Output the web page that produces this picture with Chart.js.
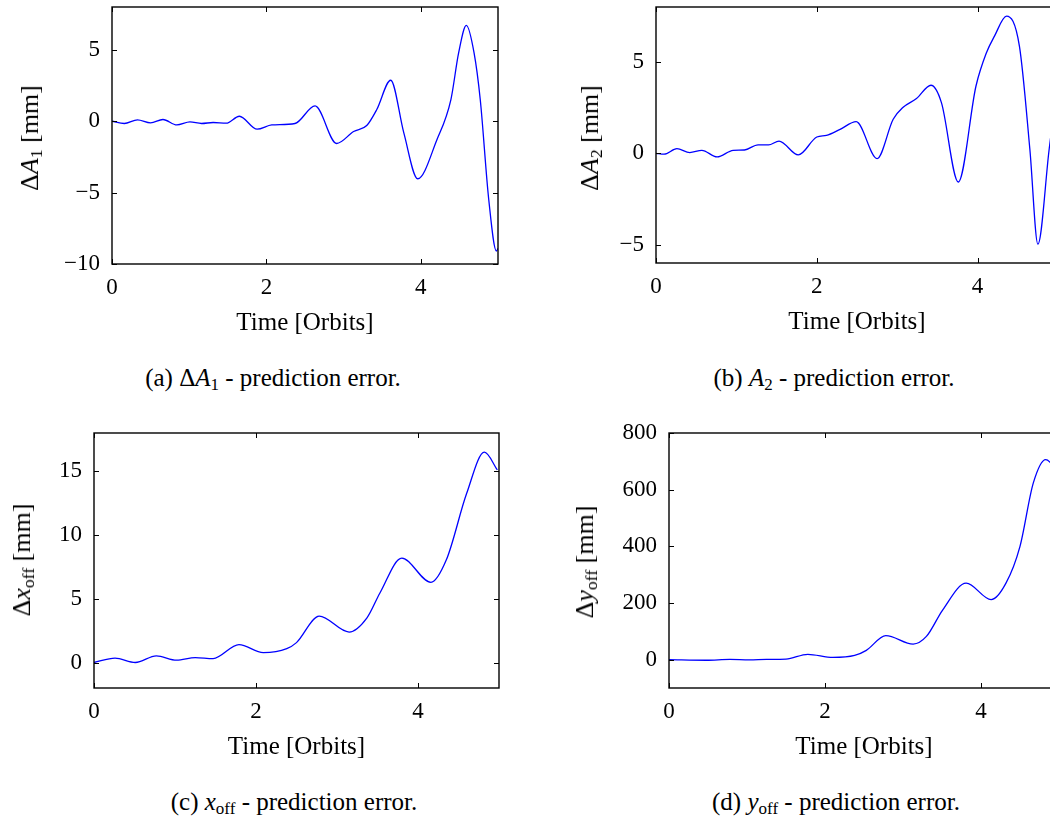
<!DOCTYPE html>
<html>
<head>
<meta charset="utf-8">
<script src="https://cdn.jsdelivr.net/npm/chart.js@4.4.0/dist/chart.umd.min.js"></script>
<style>
  html, body { margin: 0; padding: 0; background: #fff; width: 1050px; height: 817px; overflow: hidden; }
  body { position: relative; font-family: "Liberation Serif", serif; color: #000; }
  canvas { position: absolute; }
  .ytitle, .caption { position: absolute; white-space: nowrap; line-height: 1; }
  .ytitle { font-size: 26px; transform: translate(-50%, -50%) rotate(-90deg); }
  .caption { font-size: 25px; transform: translate(-50%, -50%); }
  sub { font-size: 68%; vertical-align: -0.25em; line-height: 0; }
</style>
</head>
<body>
<canvas id="chartA"></canvas>
<canvas id="chartB"></canvas>
<canvas id="chartC"></canvas>
<canvas id="chartD"></canvas>

<div class="ytitle" style="left:30px;top:138px">Δ<i>A</i><sub>1</sub> [mm]</div>
<div class="ytitle" style="left:590px;top:138px">Δ<i>A</i><sub>2</sub> [mm]</div>
<div class="ytitle" style="left:22px;top:560px">Δ<i>x</i><sub>off</sub> [mm]</div>
<div class="ytitle" style="left:585px;top:562px">Δ<i>y</i><sub>off</sub> [mm]</div>

<div class="caption" style="left:273px;top:377px">(a) Δ<i>A</i><sub>1</sub> - prediction error.</div>
<div class="caption" style="left:834px;top:377px">(b) <i>A</i><sub>2</sub> - prediction error.</div>
<div class="caption" style="left:294px;top:801px">(c) <i>x</i><sub>off</sub> - prediction error.</div>
<div class="caption" style="left:836px;top:801px">(d) <i>y</i><sub>off</sub> - prediction error.</div>

<script>
// time axis, shared by all panels
const xTicks = [0, 2, 4];

// (a) delta A1 [mm]
const tA = [0, 0.16, 0.33, 0.5, 0.66, 0.84, 1.01, 1.16, 1.31, 1.48, 1.65, 1.88, 2.07, 2.37, 2.63, 2.91, 3.13, 3.30, 3.43, 3.61, 3.78, 3.96, 4.21, 4.39, 4.49, 4.59, 4.69, 4.77, 4.88, 4.98, 5.0];
const dA1 = [0, -0.16, 0.09, -0.12, 0.12, -0.26, -0.05, -0.16, -0.09, -0.14, 0.35, -0.56, -0.26, -0.16, 1.07, -1.56, -0.72, -0.30, 0.82, 2.87, -0.82, -4.03, -1.28, 1.52, 4.78, 6.71, 4.78, 1.52, -5.48, -9.09, -8.9];
const ticksA = [-10, -5, 0, 5];

// (b) delta A2 [mm]
const tB = [0, 0.1, 0.26, 0.42, 0.57, 0.76, 0.96, 1.1, 1.27, 1.4, 1.53, 1.77, 2.0, 2.12, 2.29, 2.49, 2.75, 2.95, 3.07, 3.24, 3.42, 3.55, 3.76, 3.98, 4.11, 4.21, 4.36, 4.52, 4.65, 4.75, 4.89, 4.97];
const dA2 = [0, -0.05, 0.25, 0.04, 0.16, -0.2, 0.16, 0.18, 0.46, 0.46, 0.67, -0.09, 0.89, 0.98, 1.31, 1.73, -0.29, 1.86, 2.5, 2.99, 3.72, 2.77, -1.57, 3.68, 5.5, 6.41, 7.5, 5.86, 0.22, -4.97, 0.22, 3.0];
const ticksB = [-5, 0, 5];

// (c) delta x_off [mm]
const tC = [0, 0.26, 0.51, 0.77, 1.02, 1.25, 1.47, 1.79, 2.09, 2.38, 2.5, 2.78, 3.15, 3.37, 3.53, 3.8, 4.16, 4.35, 4.6, 4.82, 4.98];
const dXoff = [0, 0.34, 0, 0.52, 0.18, 0.39, 0.31, 1.4, 0.78, 1.09, 1.56, 3.64, 2.39, 3.5, 5.45, 8.18, 6.29, 8.05, 13.25, 16.5, 15.1];
const ticksC = [0, 5, 10, 15];

// (d) delta y_off [mm]
const tD = [0, 0.48, 0.78, 1.03, 1.25, 1.5, 1.78, 2.1, 2.38, 2.53, 2.78, 3.13, 3.3, 3.51, 3.81, 4.13, 4.32, 4.5, 4.67, 4.83, 4.88, 4.95];
const dYoff = [0, -2, 1, -1, 1, 2, 19, 8, 15, 33, 85, 55, 82, 176, 270, 212, 270, 400, 623, 706, 698, 670];
const ticksD = [0, 200, 400, 600, 800];

Chart.defaults.font.family = "'Liberation Serif', serif";
Chart.defaults.color = "#000";

const YW = 80, XH = 80, PT = 20, PR = 12;

// box around the plot with inward ticks on all four sides
const framePlugin = {
    id: "frame",
    afterDatasetsDraw(chart) {
        const { ctx, chartArea: a, scales: { x, y } } = chart;
        ctx.save();
        ctx.strokeStyle = "#000";
        ctx.lineWidth = 1.4;
        ctx.strokeRect(a.left, a.top, a.right - a.left, a.bottom - a.top);
        ctx.lineWidth = 1;
        ctx.beginPath();
        x.ticks.forEach(t => {
            const px = Math.round(x.getPixelForValue(t.value)) + 0.5;
            ctx.moveTo(px, a.bottom); ctx.lineTo(px, a.bottom - 5);
            ctx.moveTo(px, a.top); ctx.lineTo(px, a.top + 5);
        });
        y.ticks.forEach(t => {
            const py = Math.round(y.getPixelForValue(t.value)) + 0.5;
            ctx.moveTo(a.left, py); ctx.lineTo(a.left + 5, py);
            ctx.moveTo(a.right, py); ctx.lineTo(a.right - 5, py);
        });
        ctx.stroke();
        ctx.restore();
    }
};

function makePanel(id, box, xs, ys, yMin, yMax, yTicks) {
    const canvas = document.getElementById(id);
    const w = YW + (box.r - box.l) + PR;
    const h = PT + (box.b - box.t) + XH;
    canvas.width = w;
    canvas.height = h;
    canvas.style.left = (box.l - YW) + "px";
    canvas.style.top = (box.t - PT) + "px";
    canvas.style.width = w + "px";
    canvas.style.height = h + "px";

    return new Chart(canvas, {
        type: "line",
        data: {
            datasets: [{
                data: xs.map((t, i) => ({ x: t, y: ys[i] })),
                borderColor: "#0000ff",
                borderWidth: 1.3,
                pointRadius: 0,
                fill: false,
                cubicInterpolationMode: "monotone",
            }],
        },
        options: {
            responsive: false,
            animation: false,
            devicePixelRatio: 1,
            layout: { padding: { top: PT, right: PR, left: 0, bottom: 0 } },
            plugins: { legend: { display: false }, tooltip: { enabled: false } },
            scales: {
                x: {
                    type: "linear",
                    min: 0,
                    max: 5,
                    afterBuildTicks: s => { s.ticks = xTicks.map(v => ({ value: v })); },
                    afterFit: s => { s.height = XH; s.paddingLeft = 0; s.paddingRight = 0; },
                    grid: { display: false, drawTicks: false },
                    border: { display: false },
                    ticks: { font: { size: 23 }, color: "#000", padding: 10, maxRotation: 0, autoSkip: false },
                    title: {
                        display: true,
                        text: "Time [Orbits]",
                        font: { size: 25 },
                        color: "#000",
                        padding: { top: 0, bottom: 6 },
                    },
                },
                y: {
                    type: "linear",
                    min: yMin,
                    max: yMax,
                    afterBuildTicks: s => { s.ticks = yTicks.map(v => ({ value: v })); },
                    afterFit: s => { s.width = YW; s.paddingTop = 0; s.paddingBottom = 0; },
                    grid: { display: false, drawTicks: false },
                    border: { display: false },
                    ticks: {
                        font: { size: 23 },
                        color: "#000",
                        padding: 12,
                        autoSkip: false,
                        callback: v => v < 0 ? "\u2212" + (-v) : String(v),
                    },
                },
            },
        },
        plugins: [framePlugin],
    });
}

makePanel("chartA", { l: 112, r: 498, t: 7, b: 264 }, tA, dA1, -10, 8, ticksA);
makePanel("chartB", { l: 656, r: 1058, t: 7, b: 263 }, tB, dA2, -6, 8, ticksB);
makePanel("chartC", { l: 94, r: 499, t: 433, b: 688 }, tC, dXoff, -2, 18, ticksC);
makePanel("chartD", { l: 669, r: 1059, t: 433, b: 688 }, tD, dYoff, -100, 800, ticksD);
</script>
</body>
</html>
